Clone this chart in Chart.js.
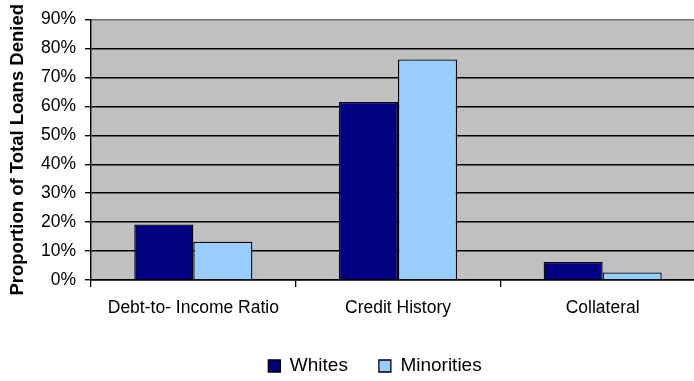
<!DOCTYPE html>
<html>
<head>
<meta charset="utf-8">
<script src="https://cdn.jsdelivr.net/npm/chart.js@4.4.1/dist/chart.umd.min.js"></script>
<style>
  html, body { margin: 0; padding: 0; background: #fff; overflow: hidden; }
  #wrap { width: 694px; height: 381px; overflow: hidden; position: relative; }
  canvas { display: block; }
</style>
</head>
<body>
<div id="wrap"><canvas id="c" width="750" height="381"></canvas></div>
<script>
const categories = ["Debt-to- Income Ratio", "Credit History", "Collateral"];
const whites = [19.2, 61.5, 6.2];
const minorities = [13.2, 76.2, 2.6];
const seriesNames = ["Whites", "Minorities"];
const yTicks = [0, 10, 20, 30, 40, 50, 60, 70, 80, 90];
const yTitle = "Proportion of Total Loans Denied";

const FONT = '"Liberation Sans", Arial, sans-serif';

const plotBg = {
  id: 'plotBg',
  beforeDraw(chart) {
    const {ctx, chartArea: a} = chart;
    ctx.save();
    ctx.fillStyle = '#C0C0C0';
    ctx.fillRect(a.left, a.top, a.right - a.left, a.bottom - a.top);
    ctx.restore();
  }
};

new Chart(document.getElementById('c'), {
  type: 'bar',
  data: {
    labels: categories,
    datasets: [
      { label: seriesNames[0], data: whites, backgroundColor: '#000080', borderColor: '#000', borderWidth: 1.3 },
      { label: seriesNames[1], data: minorities, backgroundColor: '#99CCFF', borderColor: '#000', borderWidth: 1.3 }
    ]
  },
  options: {
    responsive: false,
    animation: false,
    devicePixelRatio: 1,
    layout: { padding: { top: 18, bottom: -4.5, left: 0, right: 0 } },
    datasets: { bar: { categoryPercentage: 0.577, barPercentage: 1 } },
    plugins: {
      legend: {
        position: 'bottom',
        labels: {
          boxWidth: 12, boxHeight: 12, padding: 31,
          color: '#000',
          font: { family: FONT, size: 19 }
        }
      },
      tooltip: { enabled: false }
    },
    scales: {
      x: {
        offset: true,
        grid: { display: true, offset: true, drawOnChartArea: false, drawTicks: true, tickLength: 7, color: '#000', lineWidth: 1.3 },
        border: { display: true, color: '#000', width: 1.4 },
        ticks: { color: '#000', font: { family: FONT, size: 17.5 }, padding: 10.5, maxRotation: 0, autoSkip: false },
        afterFit(s) { s.height = 45.5; }
      },
      y: {
        min: 0, max: 90,
        afterBuildTicks(s) { s.ticks = yTicks.map(v => ({ value: v })); },
        grid: {
          color: c => (c.tick && c.tick.value === 90) ? '#707070' : '#000',
          tickColor: '#000',
          lineWidth: 1.4, tickLength: 6, drawTicks: true
        },
        border: { display: true, color: '#000', width: 1.4 },
        ticks: { color: '#000', font: { family: FONT, size: 17.5 }, padding: 9, callback: v => v + '%' },
        title: { display: true, text: yTitle, color: '#000', font: { family: FONT, size: 18.5, weight: 'bold' }, padding: { top: 7, bottom: 0 } },
        afterFit(s) { s.width = 91; }
      },
      yR: {
        position: 'right',
        display: true,
        grid: { display: false, drawTicks: false },
        border: { display: false },
        ticks: { display: false },
        afterFit(s) { s.width = 45; }
      }
    }
  },
  plugins: [plotBg]
});
</script>
</body>
</html>
